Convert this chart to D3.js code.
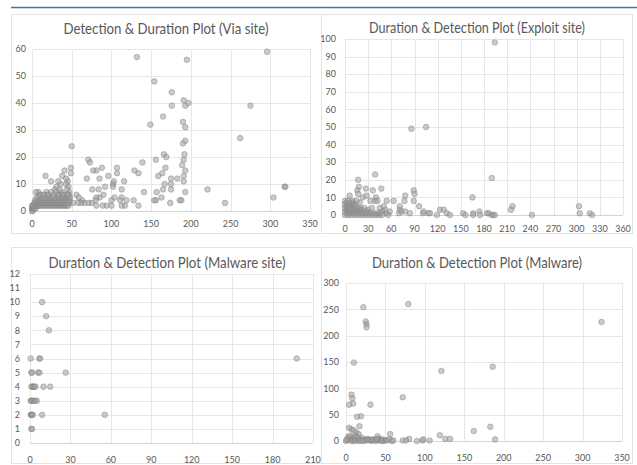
<html>
<head>
<meta charset="UTF-8" />
<style>
body { margin: 0; background: #fff; }
text { font-family: Lato, "Open Sans", sans-serif; }
</style>
</head>
<body>
<script src="https://cdn.jsdelivr.net/npm/d3@7"></script>
<script>
var width = 637;
var height = 465;

// [duration, detection] pairs
var viaSite = [
  [296,59],[132,57],[195,56],[154,48],[176,44],[176,39],[191,41],[193,39],[197,40],
  [165,35],[149,32],[190,33],[193,31],[193,26],[190,25],[262,27],[275,39],
  [192,21],[191,19],[189,17],[193,15],[191,13],[191,11],[193,7],[188,4],[186,4],
  [166,21],[169,20],[156,19],[168,16],[164,14],[159,13],[183,12],[175,12],[175,10],
  [167,10],[175,8],[165,8],[174,3],[156,4],[154,4],[157,7],[163,5],[141,7],[139,18],
  [129,15],[134,14],[128,4],[134,2],[119,4],[117,2],[113,2],[107,16],[107,14],[116,11],
  [103,11],[102,10],[102,9],[96,13],[113,8],[113,5],[111,4],[104,5],[100,4],
  [88,16],[85,12],[81,15],[77,15],[71,19],[73,18],[69,12],[76,8],[84,8],[92,9],[90,6],
  [85,5],[81,5],[80,4],[75,3],[71,3],[89,2],[94,2],[81,2],[100,2],[66,3],[63,4],
  [50,24],[49,16],[49,14],[41,15],[38,13],[43,12],[45,11],[43,10],[46,9],[36,10],[33,11],
  [47,7],[46,6],[56,6],[59,5],[58,3],[62,3],[52,3],[17,13],[24,11],[31,9],[29,8],[18,7],
  [8,7],[12,6],[34,6],[37,7],[44,8],[40,6],[42,5],[45,4],[48,5],[47,3],[30,7],[35,8],
  [221,8],[243,3],[304,5],[318,9],[319,9],
  [0,0],[0,1],[1,0],[1,1],[2,1],[3,1],[5,1],[1,2],[0,2],
  [2,2],[4,2],[6,2],[8,2],[10,2],[12,2],[14,2],[16,2],[18,2],[20,2],[22,2],[24,2],[26,2],
  [28,2],[30,2],[32,2],[34,2],[36,2],[38,2],[40,2],[42,2],[44,2],[46,2],
  [3,3],[5,3],[7,3],[9,3],[11,3],[13,3],[15,3],[17,3],[19,3],[21,3],[23,3],[25,3],[27,3],
  [29,3],[31,3],[33,3],[35,3],[37,3],[39,3],[41,3],[43,3],[45,3],
  [4,4],[7,4],[10,4],[13,4],[16,4],[19,4],[22,4],[25,4],[28,4],[31,4],[34,4],[37,4],
  [40,4],[44,4],[47,4],
  [6,5],[10,5],[14,5],[18,5],[22,5],[26,5],[30,5],[34,5],[38,5],[42,5],[46,5],
  [9,6],[15,6],[21,6],[27,6],[33,6],[39,6],[45,6],[5,7],[20,6],[24,7]
];

var exploitSite = [
  [194,98],[86,49],[105,50],[190,21],[39,23],[17,20],[18,16],[16,14],[17,12],[27,15],
  [36,14],[47,15],[23,10],[28,11],[33,8],[39,8],[40,10],[42,8],[6,11],[10,8],[78,11],
  [77,8],[89,14],[90,12],[89,8],[96,5],[54,8],[63,8],[165,10],[174,2],[217,5],[215,3],
  [242,0],[303,5],[304,1],[317,1],[320,0],[123,3],[128,3],[132,1],[136,0],[119,0],
  [153,1],[156,0],[166,1],[166,0],[175,0],[184,1],[186,1],[190,0],[192,0],[194,0],
  [71,5],[71,3],[70,1],[73,2],[78,2],[84,1],[101,1],[102,2],[108,1],[110,1],
  [52,3],[54,1],[56,0],[58,2],[48,2],[45,4],[50,5],[30,3],[35,4],
  [0,0],[0,2],[0,4],[0,6],[0,8],[2,1],[2,3],[2,5],[2,7],[4,0],[4,2],[4,4],[4,6],[4,8],
  [6,1],[6,3],[6,5],[6,7],[8,0],[8,2],[8,4],[8,6],[10,1],[10,3],[10,5],[10,7],
  [12,0],[12,2],[12,4],[12,6],[14,1],[14,3],[14,5],[16,0],[16,2],[16,4],[18,1],[18,3],
  [20,0],[20,2],[20,4],[22,1],[22,3],[24,0],[24,2],[26,1],[28,0],[28,2],[30,1],[32,0],
  [34,1],[36,0],[38,1],[40,0],[42,1],[44,0],[46,1],[48,0],[25,4],[15,8],[19,7]
];

var malwareSite = [
  [9,10],[12,9],[14,8],[0.5,6],[7,6],[7.5,6],[198,6],[1,5],[1.5,5],[6,5],[7,5],[26.5,5],
  [1,4],[2,4],[2.5,4],[3,4],[4,4],[10,4],[15,4],
  [0.5,3],[1,3],[2,3],[3,3],[4,3],[5,3],
  [0.5,2],[1,2],[1.5,2],[2,2],[9,2],[55.5,2],[1,1],[1.5,1]
];

var malware = [
  [22,254],[79,260],[25,227],[26,222],[26,216],[324,226],[10,149],[121,133],[186,141],
  [72,83],[7,88],[8,81],[9,71],[4,69],[31,69],[14,46],[19,47],[17,28],[4,25],[7,22],
  [10,20],[13,16],[16,13],[40,9],[56,13],[162,19],[183,27],[189,3],[119,11],[126,4],
  [132,4],[106,1],[97,1],[98,3],[90,0],[80,4],[72,1],[76,1],
  [0,0],[2,2],[4,4],[6,6],[8,0],[10,3],[12,5],[14,1],[16,4],[18,2],[20,6],[22,0],
  [24,3],[26,1],[28,4],[30,2],[32,0],[34,3],[36,1],[38,0],[40,2],[42,4],[44,1],
  [46,3],[48,0],[50,2],[52,1],[55,3],[58,0],[3,8],[5,10],[9,7],[12,9],[15,6],[6,1],
  [1,3],[11,0],[17,0],[21,1],[27,2],[33,2],[39,4],[45,0],[60,1]
];

var viaXTicks = [0,50,100,150,200,250,300,350];
var viaYTicks = [0,10,20,30,40,50,60];
var exploitXTicks = [0,30,60,90,120,150,180,210,240,270,300,330,360];
var exploitYTicks = [0,10,20,30,40,50,60,70,80,90,100];
var malSiteXTicks = [0,30,60,90,120,150,180,210];
var malSiteYTicks = [0,1,2,3,4,5,6,7,8,9,10,11,12];
var malwareXTicks = [0,50,100,150,200,250,300,350];
var malwareYTicks = [0,50,100,150,200,250,300];

var svg = d3.select("body")
            .append("svg")
            .attr("width", width)
            .attr("height", height);

// blue rule at the top
svg.append("line")
   .attr("x1", 11).attr("x2", 637)
   .attr("y1", 7.5).attr("y2", 7.5)
   .attr("stroke", "#3a78b8")
   .attr("stroke-width", 1.5);

function drawPanel(p) {
  var g = svg.append("g");

  g.append("rect")
   .attr("x", p.box[0] + 0.5).attr("y", p.box[1] + 0.5)
   .attr("width", p.box[2]).attr("height", p.box[3])
   .attr("fill", "none")
   .attr("stroke", "#e3e3e3");

  var x = d3.scaleLinear().domain(d3.extent(p.xTicks)).range([p.left, p.right]);
  var y = d3.scaleLinear().domain(d3.extent(p.yTicks)).range([p.bottom, p.top]);

  // gridlines
  g.append("g").selectAll("line")
   .data(p.xTicks)
   .enter().append("line")
   .attr("x1", d => Math.round(x(d)) + 0.5).attr("x2", d => Math.round(x(d)) + 0.5)
   .attr("y1", p.top).attr("y2", p.bottom)
   .attr("stroke", "#e6e6e6");

  g.append("g").selectAll("line")
   .data(p.yTicks)
   .enter().append("line")
   .attr("x1", p.left).attr("x2", p.right)
   .attr("y1", d => Math.round(y(d)) + 0.5).attr("y2", d => Math.round(y(d)) + 0.5)
   .attr("stroke", d => d === 0 ? "#d4d4d4" : "#e6e6e6");

  // tick labels
  g.append("g").selectAll("text")
   .data(p.xTicks)
   .enter().append("text")
   .attr("x", d => x(d))
   .attr("y", p.xLabelY)
   .attr("text-anchor", "middle")
   .attr("font-size", 9)
   .attr("fill", "#595959")
   .text(d => d);

  g.append("g").selectAll("text")
   .data(p.yTicks)
   .enter().append("text")
   .attr("x", p.yLabelX)
   .attr("y", d => y(d) + 3.2)
   .attr("text-anchor", "end")
   .attr("font-size", 9)
   .attr("fill", "#595959")
   .text(d => d);

  // title
  g.append("text")
   .attr("x", p.titleX)
   .attr("y", p.titleY)
   .attr("text-anchor", "middle")
   .attr("font-size", 15)
   .attr("fill", "#595959")
   .attr("textLength", p.titleW)
   .attr("lengthAdjust", "spacingAndGlyphs")
   .text(p.title);

  // points
  g.append("g").selectAll("circle")
   .data(p.data)
   .enter().append("circle")
   .attr("cx", d => x(d[0]))
   .attr("cy", d => y(d[1]))
   .attr("r", 2.8)
   .attr("fill", "#a0a0a0")
   .attr("fill-opacity", 0.55)
   .attr("stroke", "#7a7a7a")
   .attr("stroke-opacity", 0.55)
   .attr("stroke-width", 0.8);
}

drawPanel({
  title: "Detection & Duration Plot (Via site)", data: viaSite,
  xTicks: viaXTicks, yTicks: viaYTicks,
  box: [11, 14, 310, 219],
  left: 32, right: 310, top: 49, bottom: 211,
  xLabelY: 227, yLabelX: 26, titleX: 166, titleY: 34, titleW: 205
});

drawPanel({
  title: "Duration & Detection Plot (Exploit site)", data: exploitSite,
  xTicks: exploitXTicks, yTicks: exploitYTicks,
  box: [321, 14, 311, 219],
  left: 345, right: 623, top: 39, bottom: 215,
  xLabelY: 232, yLabelX: 336, titleX: 477, titleY: 33, titleW: 216
});

drawPanel({
  title: "Duration & Detection Plot (Malware site)", data: malwareSite,
  xTicks: malSiteXTicks, yTicks: malSiteYTicks,
  box: [11, 247, 310, 216],
  left: 30, right: 313, top: 274, bottom: 443,
  xLabelY: 463, yLabelX: 20, titleX: 167, titleY: 268, titleW: 237
});

drawPanel({
  title: "Duration & Detection Plot (Malware)", data: malware,
  xTicks: malwareXTicks, yTicks: malwareYTicks,
  box: [321, 247, 311, 216],
  left: 346, right: 622, top: 283, bottom: 441,
  xLabelY: 461, yLabelX: 339, titleX: 477, titleY: 268, titleW: 210
});
</script>
</body>
</html>
